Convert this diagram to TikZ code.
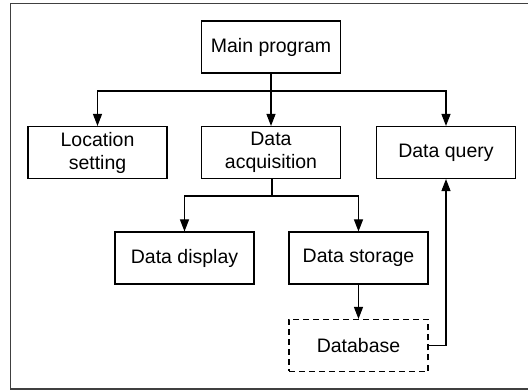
\documentclass[tikz,border=0pt]{standalone}
\usepackage{fontspec}
\setmainfont{Liberation Sans}
\usetikzlibrary{arrows.meta}
\begin{document}
\begin{tikzpicture}[x=1pt,y=-1pt,
  box/.style={draw=black,line width=1.1pt,minimum width=139pt,minimum height=52pt,inner sep=0pt,align=center,font=\fontsize{19.5}{23}\selectfont},
  dbox/.style={box,dash pattern=on 6pt off 4pt},
  conn/.style={line width=1.1pt,-{Triangle[length=12pt,width=9pt]}},
  plain/.style={line width=1.1pt}]
\useasboundingbox (0,0) rectangle (528,390);
\draw[line width=1.2pt,draw=black!75] (10.5,3.5) -- (535,3.5);
\draw[line width=1.2pt,draw=black!75] (10.5,3.5) -- (10.5,389) -- (535,389);
\node[box] (main) at (271,47) {Main program};
\node[box] (loc) at (97.5,152.5) {Location\\setting};
\node[box] (acq) at (271,152.5) {Data\\acquisition};
\node[box] (qry) at (446,152.5) {Data query};
\node[box] (disp) at (184.5,258) {Data display};
\node[box] (stor) at (358.5,258) {Data storage};
\node[dbox] (db) at (358.5,345.5) {Database};
\coordinate (b1) at (271,91);
\coordinate (b2) at (272,196);
\draw[plain] (main.south) -- (b1);
\draw[conn] (b1) -| (loc.north);
\draw[conn] (b1) -- (acq.north);
\draw[conn] (b1) -| (qry.north);
\draw[plain] (acq.south -| b2) -- (b2);
\draw[conn] (b2) -| (disp.north);
\draw[conn] (b2) -| (stor.north);
\draw[conn] (stor.south) -- (db.north);
\draw[conn] (db.east) -| (qry.south);
\end{tikzpicture}
\end{document}
